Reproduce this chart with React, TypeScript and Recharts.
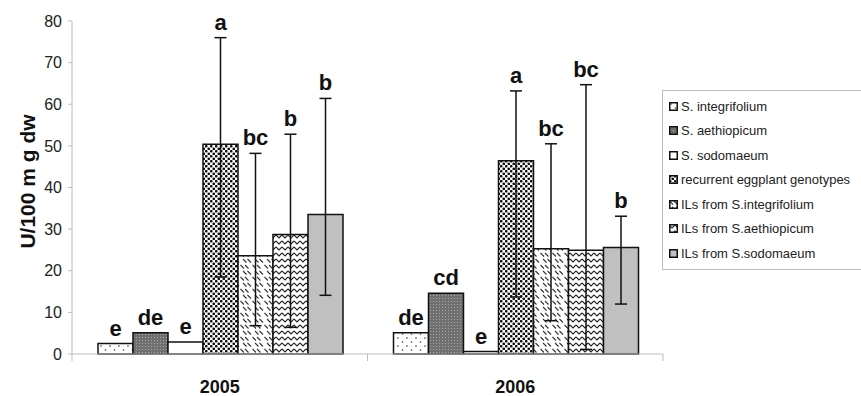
import { BarChart, Bar, XAxis, YAxis, ErrorBar, LabelList, Label } from 'recharts';

const years = ['2005', '2006'];

// mean values per group (2005, 2006)
const sIntegrifolium = [2.5, 5.1];
const sAethiopicum = [5.1, 14.6];
const sSodomaeum = [2.9, 0.6];
const recurrent = [50.4, 46.4];
const ilIntegrifolium = [23.6, 25.3];
const ilAethiopicum = [28.7, 24.9];
const ilSodomaeum = [33.5, 25.6];

// error bar ends [low, high]
const recurrentRange = [[18.5, 76.0], [13.7, 63.2]];
const ilIntegrifoliumRange = [[6.8, 48.2], [8.0, 50.5]];
const ilAethiopicumRange = [[6.4, 52.8], [1.1, 64.7]];
const ilSodomaeumRange = [[14.1, 61.4], [12.0, 33.1]];

// significance letters
const sIntegrifoliumLetters = ['e', 'de'];
const sAethiopicumLetters = ['de', 'cd'];
const sSodomaeumLetters = ['e', 'e'];
const recurrentLetters = ['a', 'a'];
const ilIntegrifoliumLetters = ['bc', 'bc'];
const ilAethiopicumLetters = ['b', 'bc'];
const ilSodomaeumLetters = ['b', 'b'];

const FONT = 'Liberation Sans, Arial, sans-serif';
const W = 861;
const H = 396;
const LEFT = 72;
const RIGHT = 198;
const PLOT_W = W - LEFT - RIGHT;

type Series = {
  key: string;
  name: string;
  values: number[];
  ranges: number[][] | null;
  letters: string[];
  fill: string;
};

const series: Series[] = [
  { key: 's0', name: 'S. integrifolium', values: sIntegrifolium, ranges: null, letters: sIntegrifoliumLetters, fill: 'url(#pSparse)' },
  { key: 's1', name: 'S. aethiopicum', values: sAethiopicum, ranges: null, letters: sAethiopicumLetters, fill: 'url(#pGrey)' },
  { key: 's2', name: 'S. sodomaeum', values: sSodomaeum, ranges: null, letters: sSodomaeumLetters, fill: '#ffffff' },
  { key: 's3', name: 'recurrent eggplant genotypes', values: recurrent, ranges: recurrentRange, letters: recurrentLetters, fill: 'url(#pDense)' },
  { key: 's4', name: 'ILs from S.integrifolium', values: ilIntegrifolium, ranges: ilIntegrifoliumRange, letters: ilIntegrifoliumLetters, fill: 'url(#pDash)' },
  { key: 's5', name: 'ILs from S.aethiopicum', values: ilAethiopicum, ranges: ilAethiopicumRange, letters: ilAethiopicumLetters, fill: 'url(#pWave)' },
  { key: 's6', name: 'ILs from S.sodomaeum', values: ilSodomaeum, ranges: ilSodomaeumRange, letters: ilSodomaeumLetters, fill: '#c0c0c0' },
];

const data = years.map((year, i) => {
  const row: Record<string, unknown> = { year };
  series.forEach((s) => {
    const v = s.values[i];
    row[s.key] = v;
    if (s.ranges) row[`${s.key}err`] = [v - s.ranges[i][0], s.ranges[i][1] - v];
  });
  return row;
});

const makeLetter = (s: Series) => (props: any) => {
  const x = Number(props.x);
  const y = Number(props.y);
  const width = Number(props.width);
  const height = Number(props.height);
  const i = props.index as number;
  const v = s.values[i];
  const ppu = v ? height / v : 0;
  const top = s.ranges ? y - (s.ranges[i][1] - v) * ppu : y;
  return (
    <text
      x={x + width / 2}
      y={top - 8}
      textAnchor="middle"
      fontSize={22}
      fontWeight="bold"
      fontFamily={FONT}
      fill="#111"
    >
      {s.letters[i]}
    </text>
  );
};

function YearTick(props: any) {
  const { x, y, payload, index } = props;
  const band = PLOT_W / years.length;
  return (
    <g>
      <line x1={x - band / 2} x2={x - band / 2} y1={y} y2={y + 7} stroke="#bdbdbd" />
      {index === years.length - 1 && (
        <line x1={x + band / 2} x2={x + band / 2} y1={y} y2={y + 7} stroke="#bdbdbd" />
      )}
      <text x={x} y={y + 39} textAnchor="middle" fontSize={18} fontWeight="bold" fontFamily={FONT} fill="#111">
        {payload.value}
      </text>
    </g>
  );
}

function LegendBox() {
  return (
    <div
      style={{
        position: 'absolute',
        left: 662,
        top: 90,
        width: 210,
        height: 180,
        border: '1px solid #bdbdbd',
        boxSizing: 'border-box',
        background: '#fff',
      }}
    >
      {series.map((s, i) => (
        <div
          key={s.key}
          style={{
            position: 'absolute',
            left: 6,
            top: 6 + i * 24.5,
            height: 18,
            display: 'flex',
            alignItems: 'center',
            whiteSpace: 'nowrap',
          }}
        >
          <svg width={9} height={9} style={{ marginRight: 3 }}>
            <rect x={0.75} y={0.75} width={7.5} height={7.5} fill={s.fill} stroke="#111" strokeWidth={1.5} />
          </svg>
          <span style={{ fontFamily: FONT, fontSize: 13, color: '#222' }}>{s.name}</span>
        </div>
      ))}
    </div>
  );
}

export default function App() {
  return (
    <div style={{ position: 'absolute', left: 0, top: 0, width: W, height: H, background: '#fff' }}>
      <BarChart
        width={W}
        height={H}
        data={data}
        margin={{ top: 21, right: RIGHT, bottom: 0, left: 0 }}
        barCategoryGap={26}
        barGap={0}
      >
        <defs>
          <pattern id="pSparse" width="9" height="8" patternUnits="userSpaceOnUse">
            <rect width="9" height="8" fill="#fff" />
            <circle cx="2" cy="2" r="0.8" fill="#333" />
            <circle cx="6.5" cy="6" r="0.8" fill="#333" />
          </pattern>
          <pattern id="pGrey" width="3" height="3" patternUnits="userSpaceOnUse">
            <rect width="3" height="3" fill="#707070" />
            <rect x="1" y="1" width="1" height="1" fill="#a8a8a8" />
          </pattern>
          <pattern id="pDense" width="5" height="5" patternUnits="userSpaceOnUse">
            <rect width="5" height="5" fill="#fff" />
            <circle cx="1.25" cy="1.25" r="1.35" fill="#111" />
            <circle cx="3.75" cy="3.75" r="1.35" fill="#111" />
          </pattern>
          <pattern id="pDash" width="12" height="12" patternUnits="userSpaceOnUse">
            <rect width="12" height="12" fill="#fff" />
            <line x1="0.5" y1="1" x2="4" y2="4.5" stroke="#333" strokeWidth="1.1" />
            <line x1="5" y1="1" x2="8.5" y2="4.5" stroke="#333" strokeWidth="1.1" />
            <line x1="3" y1="7" x2="6.5" y2="10.5" stroke="#333" strokeWidth="1.1" />
            <line x1="7.5" y1="7" x2="11" y2="10.5" stroke="#333" strokeWidth="1.1" />
          </pattern>
          <pattern id="pWave" width="6" height="6" patternUnits="userSpaceOnUse">
            <rect width="6" height="6" fill="#fff" />
            <polyline points="0,1 3,4 6,1" fill="none" stroke="#222" strokeWidth="1.1" />
          </pattern>
        </defs>
        <XAxis
          dataKey="year"
          axisLine={{ stroke: '#bdbdbd' }}
          tickLine={false}
          tickSize={0}
          tickMargin={0}
          height={42}
          tick={<YearTick />}
        />
        <YAxis
          domain={[0, 80]}
          ticks={[0, 10, 20, 30, 40, 50, 60, 70, 80]}
          width={LEFT}
          axisLine={{ stroke: '#bdbdbd' }}
          tickLine={{ stroke: '#bdbdbd' }}
          tickSize={4}
          tickMargin={6}
          tick={{ fontSize: 16, fontFamily: FONT, fill: '#222' }}
        >
          <Label
            content={(props: any) => {
              const vb = props.viewBox || { x: 0, y: 21, width: LEFT, height: 333 };
              const cx = vb.x + 27;
              const cy = vb.y + vb.height / 2 - 6;
              return (
                <text
                  x={cx}
                  y={cy}
                  transform={`rotate(-90 ${cx} ${cy})`}
                  textAnchor="middle"
                  dominantBaseline="central"
                  fontSize={21}
                  fontWeight="bold"
                  fontFamily={FONT}
                  fill="#111"
                >
                  U/100 m g dw
                </text>
              );
            }}
          />
        </YAxis>
        {series.map((s) => (
          <Bar
            key={s.key}
            dataKey={s.key}
            name={s.name}
            fill={s.fill}
            stroke="#111"
            strokeWidth={1.5}
            isAnimationActive={false}
          >
            {s.ranges && (
              <ErrorBar dataKey={`${s.key}err`} width={6} stroke="#111" strokeWidth={1.5} direction="y" />
            )}
            <LabelList dataKey={s.key} content={makeLetter(s)} />
          </Bar>
        ))}
      </BarChart>
      <LegendBox />
    </div>
  );
}
